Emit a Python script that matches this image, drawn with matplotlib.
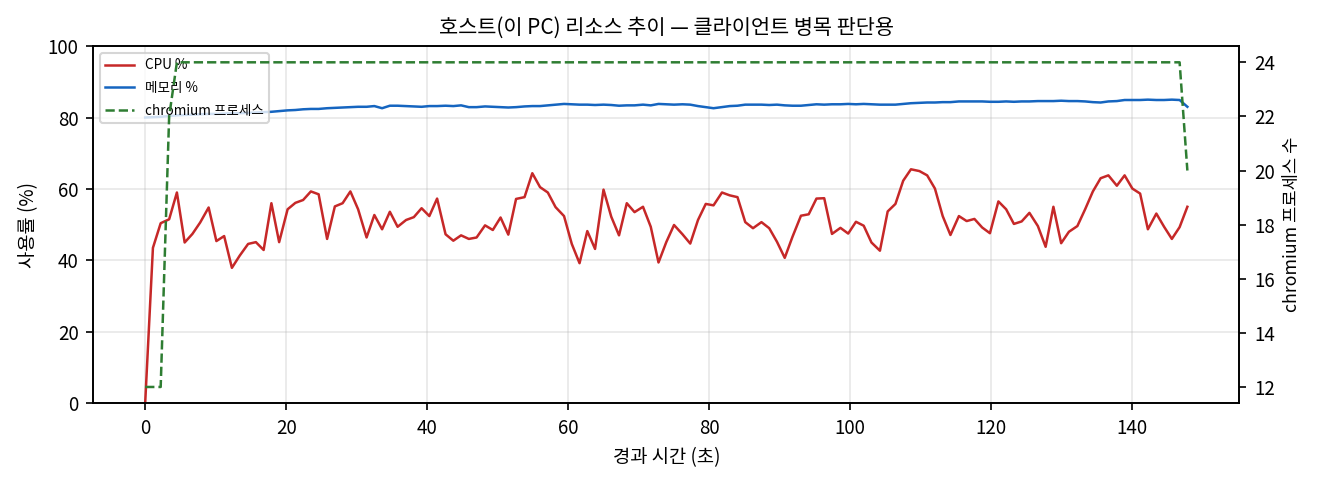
import matplotlib
matplotlib.use("Agg")
import matplotlib.pyplot as plt

plt.rcParams["font.family"] = ["Noto Sans CJK KR", "DejaVu Sans"]
plt.rcParams["axes.unicode_minus"] = False

# sample times (s)
elapsed_s = [
    0.0, 1.1, 2.2, 3.4, 4.5, 5.6, 6.7, 7.8, 9.0, 10.1,
    11.2, 12.3, 13.4, 14.6, 15.7, 16.8, 17.9, 19.0, 20.2, 21.3,
    22.4, 23.5, 24.6, 25.8, 26.9, 28.0, 29.1, 30.2, 31.4, 32.5,
    33.6, 34.7, 35.8, 37.0, 38.1, 39.2, 40.3, 41.4, 42.6, 43.7,
    44.8, 45.9, 47.0, 48.2, 49.3, 50.4, 51.5, 52.6, 53.8, 54.9,
    56.0, 57.1, 58.2, 59.4, 60.5, 61.6, 62.7, 63.8, 65.0, 66.1,
    67.2, 68.3, 69.4, 70.6, 71.7, 72.8, 73.9, 75.0, 76.2, 77.3,
    78.4, 79.5, 80.6, 81.8, 82.9, 84.0, 85.1, 86.2, 87.4, 88.5,
    89.6, 90.7, 91.8, 93.0, 94.1, 95.2, 96.3, 97.4, 98.6, 99.7,
    100.8, 101.9, 103.0, 104.2, 105.3, 106.4, 107.5, 108.6, 109.8, 110.9,
    112.0, 113.1, 114.2, 115.4, 116.5, 117.6, 118.7, 119.8, 121.0, 122.1,
    123.2, 124.3, 125.4, 126.6, 127.7, 128.8, 129.9, 131.0, 132.2, 133.3,
    134.4, 135.5, 136.6, 137.8, 138.9, 140.0, 141.1, 142.2, 143.4, 144.5,
    145.6, 146.7, 147.8,
]

cpu_pct = [
    0.0, 43.5, 50.4, 51.5, 59.0, 45.0, 47.4, 50.6, 54.8, 45.4,
    46.8, 37.9, 41.3, 44.6, 45.1, 42.9, 56.0, 45.1, 54.3, 56.1,
    56.9, 59.3, 58.5, 46.0, 55.1, 56.0, 59.3, 54.3, 46.4, 52.7,
    48.7, 53.6, 49.4, 51.3, 52.1, 54.6, 52.4, 57.3, 47.3, 45.5,
    47.0, 46.0, 46.4, 49.8, 48.5, 52.0, 47.2, 57.2, 57.7, 64.4,
    60.5, 59.0, 54.9, 52.4, 44.6, 39.2, 48.2, 43.2, 59.8, 52.2,
    47.0, 56.0, 53.5, 55.0, 49.4, 39.4, 45.1, 49.9, 47.3, 44.7,
    51.3, 55.8, 55.4, 59.0, 58.2, 57.7, 50.7, 49.0, 50.7, 49.0,
    45.2, 40.7, 46.6, 52.5, 52.9, 57.3, 57.4, 47.4, 49.1, 47.5,
    50.8, 49.7, 45.0, 42.7, 53.7, 55.8, 62.3, 65.5, 65.0, 63.8,
    60.1, 52.4, 47.1, 52.4, 51.0, 51.6, 49.2, 47.6, 56.5, 54.3,
    50.2, 50.9, 53.3, 49.6, 43.8, 55.0, 44.8, 48.0, 49.6, 54.3,
    59.3, 63.0, 63.8, 60.9, 63.8, 60.1, 58.7, 48.7, 53.1, 49.4,
    46.0, 49.3, 55.0,
]

mem_pct = [
    80.0, 80.1, 80.2, 80.4, 80.6, 80.7, 80.8, 80.9, 81.0, 81.0,
    81.1, 81.2, 81.2, 81.3, 81.4, 81.5, 81.6, 81.8, 82.0, 82.1,
    82.3, 82.4, 82.4, 82.6, 82.7, 82.8, 82.9, 83.0, 83.0, 83.2,
    82.6, 83.3, 83.3, 83.2, 83.1, 83.0, 83.2, 83.2, 83.3, 83.2,
    83.4, 82.9, 82.9, 83.1, 83.0, 82.9, 82.8, 82.9, 83.1, 83.2,
    83.2, 83.4, 83.6, 83.8, 83.7, 83.6, 83.6, 83.5, 83.6, 83.5,
    83.3, 83.4, 83.4, 83.6, 83.4, 83.8, 83.7, 83.6, 83.7, 83.6,
    83.2, 82.9, 82.6, 82.9, 83.2, 83.3, 83.6, 83.6, 83.6, 83.5,
    83.6, 83.4, 83.3, 83.3, 83.5, 83.7, 83.6, 83.7, 83.7, 83.8,
    83.7, 83.8, 83.7, 83.6, 83.6, 83.6, 83.8, 84.0, 84.1, 84.2,
    84.2, 84.3, 84.3, 84.5, 84.5, 84.5, 84.5, 84.4, 84.4, 84.5,
    84.4, 84.5, 84.5, 84.6, 84.6, 84.6, 84.7, 84.6, 84.6, 84.5,
    84.3, 84.2, 84.5, 84.6, 84.9, 84.9, 84.9, 85.0, 84.9, 84.9,
    85.0, 84.9, 83.0,
]

chromium_procs = [
    12, 12, 12, 22, 24, 24, 24, 24, 24, 24,
    24, 24, 24, 24, 24, 24, 24, 24, 24, 24,
    24, 24, 24, 24, 24, 24, 24, 24, 24, 24,
    24, 24, 24, 24, 24, 24, 24, 24, 24, 24,
    24, 24, 24, 24, 24, 24, 24, 24, 24, 24,
    24, 24, 24, 24, 24, 24, 24, 24, 24, 24,
    24, 24, 24, 24, 24, 24, 24, 24, 24, 24,
    24, 24, 24, 24, 24, 24, 24, 24, 24, 24,
    24, 24, 24, 24, 24, 24, 24, 24, 24, 24,
    24, 24, 24, 24, 24, 24, 24, 24, 24, 24,
    24, 24, 24, 24, 24, 24, 24, 24, 24, 24,
    24, 24, 24, 24, 24, 24, 24, 24, 24, 24,
    24, 24, 24, 24, 24, 24, 24, 24, 24, 24,
    24, 24, 20,
]


def main() -> None:
    fig, ax = plt.subplots(figsize=(8.8, 3.2), dpi=150)
    fig.subplots_adjust(left=0.0705, right=0.939, top=0.904, bottom=0.160)

    l1, = ax.plot(elapsed_s, cpu_pct, color="#c62828", linewidth=1.2, label="CPU %")
    l2, = ax.plot(elapsed_s, mem_pct, color="#1565c0", linewidth=1.2, label="메모리 %")
    ax.set_ylim(0, 100)
    ax.set_xlabel("경과 시간 (초)", fontsize=9)
    ax.set_ylabel("사용률 (%)", fontsize=9)
    ax.tick_params(labelsize=9)
    ax.grid(True, alpha=0.3)
    ax.set_title("호스트(이 PC) 리소스 추이 — 클라이언트 병목 판단용", fontsize=10)

    ax2 = ax.twinx()
    l3, = ax2.plot(elapsed_s, chromium_procs, color="#2e7d32", linewidth=1.2,
                   linestyle="--", label="chromium 프로세스")
    ax2.set_ylabel("chromium 프로세스 수", fontsize=8.5)
    ax2.tick_params(labelsize=9)

    lines = [l1, l2, l3]
    ax.legend(lines, [ln.get_label() for ln in lines], loc="upper left",
              fontsize=6.5, handlelength=2.1, labelspacing=0.64)

    fig.savefig("out.png", dpi=150)
    plt.close(fig)


if __name__ == "__main__":
    main()
